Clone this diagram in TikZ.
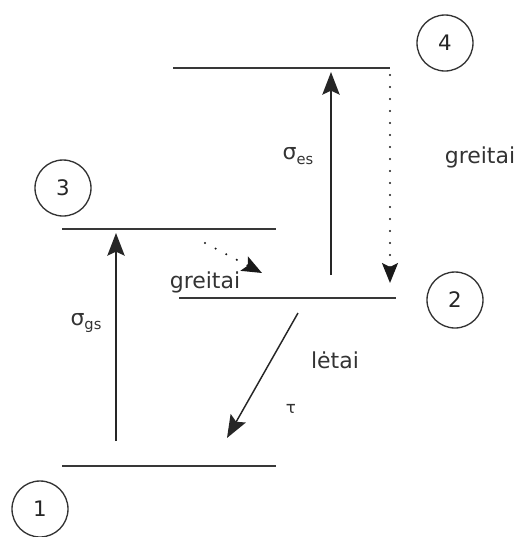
\documentclass[tikz,border=0pt]{standalone}
\usepackage{fontspec}
\setmainfont{DejaVu Sans}
\usetikzlibrary{arrows.meta}
\begin{document}
\begin{tikzpicture}[x=0.75pt,y=-0.75pt,
  level/.style={line width=1.9pt, draw=black!78},
  statecircle/.style={circle, draw=black!80, line width=1pt, minimum size=42pt, inner sep=0pt, font=\fontsize{16}{19}\selectfont, text=black!85},
  trans/.style={line width=1.1pt, draw=black!85, -{Stealth[length=17pt,width=13pt,inset=3pt]}},
  dottrans/.style={line width=1.7pt, draw=black!90, line cap=round, dash pattern=on 0pt off 9pt, -{Stealth[length=15pt,width=12pt,inset=3pt]}},
  lbl/.style={font=\fontsize{16.5}{19}\selectfont, text=black!80, inner sep=0pt}]
\useasboundingbox (0,0) rectangle (517,537);
% levels
\coordinate (l4a) at (173,68);  \coordinate (l4b) at (390,68);
\coordinate (l3a) at (62,229);  \coordinate (l3b) at (276,229);
\coordinate (l2a) at (179,298); \coordinate (l2b) at (396,298);
\coordinate (l1a) at (62,466);  \coordinate (l1b) at (276,466);
\draw[level] (l4a) -- (l4b);
\draw[level] (l3a) -- (l3b);
\draw[level] (l2a) -- (l2b);
\draw[level] (l1a) -- (l1b);
% state circles
\node[statecircle] (c4) at (445,43) {4};
\node[statecircle] (c3) at (63,188) {3};
\node[statecircle] (c2) at (455,300) {2};
\node[statecircle] (c1) at (40,509) {1};
% transitions
\coordinate (gsS) at (116,441); \coordinate (gsE) at (116,233);
\coordinate (esS) at (331,275); \coordinate (esE) at (331,72);
\coordinate (d1S) at (390,75);  \coordinate (d1E) at (390,283);
\coordinate (d2S) at (205,243); \coordinate (d2E) at (262,273);
\coordinate (tS) at (298,313);  \coordinate (tE) at (227,438);
\draw[trans] (gsS) -- (gsE);
\draw[trans] (esS) -- (esE);
\draw[dottrans] (d1S) -- (d1E);
\draw[dottrans] (d2S) -- (d2E);
\draw[trans] (tS) -- (tE);
% labels
\node[lbl] (sgs) at (86,323) {σ\raisebox{-0.35ex}{\fontsize{11}{13}\selectfont gs}};
\node[lbl] (ses) at (298,156) {σ\raisebox{-0.35ex}{\fontsize{11}{13}\selectfont es}};
\node[lbl] (gr1) at (480,157) {greitai};
\node[lbl] (gr2) at (205,282) {greitai};
\node[lbl] (let) at (335,360) {lėtai};
\node[lbl, font=\fontsize{12.5}{14}\selectfont] (tau) at (291,409) {τ};
\end{tikzpicture}
\end{document}
